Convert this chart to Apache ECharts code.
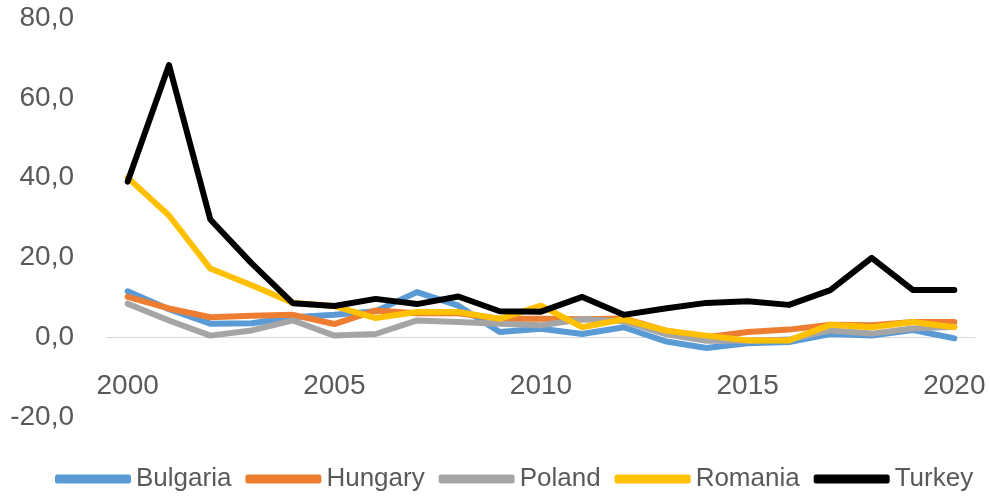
<!DOCTYPE html>
<html>
<head>
<meta charset="utf-8">
<title>Inflation</title>
<script src="https://cdn.jsdelivr.net/npm/echarts@6/dist/echarts.min.js"></script>
<style>
  html, body { margin: 0; padding: 0; background: #fff; }
  #chart { width: 990px; height: 497px; }
</style>
</head>
<body>
<div id="chart"></div>
<script>
// years on the x axis
const years = ['2000', '2001', '2002', '2003', '2004', '2005', '2006', '2007', '2008', '2009', '2010',
  '2011', '2012', '2013', '2014', '2015', '2016', '2017', '2018', '2019', '2020']

// values
const bulgaria = [11.5, 7.0, 3.4, 3.5, 5.0, 5.6, 6.5, 11.3, 7.9, 1.3, 2.1, 0.8, 2.5, -1.0, -2.7, -1.5, -1.2, 0.8, 0.4, 1.8, -0.3]
const hungary = [10.1, 7.2, 5.0, 5.4, 5.6, 3.3, 6.7, 6.0, 6.0, 4.6, 4.6, 4.5, 4.7, 1.7, 0.0, 1.3, 1.9, 3.1, 3.0, 3.8, 3.8]
const poland = [8.4, 4.2, 0.4, 1.7, 4.2, 0.4, 0.8, 4.2, 3.8, 3.4, 3.0, 4.5, 4.0, 0.8, -0.9, -0.9, -0.6, 1.7, 0.9, 2.2, 2.6]
const romania = [40.0, 30.5, 17.2, 13.0, 8.6, 7.8, 4.8, 6.3, 6.3, 4.6, 7.9, 2.5, 4.5, 1.7, 0.4, -0.8, -0.8, 3.1, 2.5, 3.8, 2.5]
const turkey = [39.0, 68.2, 29.5, 18.5, 8.5, 7.8, 9.6, 8.3, 10.2, 6.5, 6.4, 10.1, 5.6, 7.2, 8.6, 9.0, 8.1, 11.8, 19.9, 11.8, 11.8]

const seriesList = [
  { name: 'Bulgaria', data: bulgaria, color: '#5b9bd5' },
  { name: 'Hungary', data: hungary, color: '#ed7d31' },
  { name: 'Poland', data: poland, color: '#a5a5a5' },
  { name: 'Romania', data: romania, color: '#ffc000' },
  { name: 'Turkey', data: turkey, color: '#000000' }
]

const font = 'Liberation Sans, Arial, sans-serif'
const chart = echarts.init(document.getElementById('chart'))

chart.setOption({
  animation: false,
  color: seriesList.map(s => s.color),
  grid: { left: 107, right: 15, top: 18, bottom: 80 },
  legend: {
    left: 50,
    top: 461,
    icon: 'roundRect',
    itemWidth: 76,
    itemHeight: 9,
    itemGap: 14,
    textStyle: { fontFamily: font, fontSize: 26, color: '#595959' },
    data: seriesList.map(s => s.name)
  },
  xAxis: {
    type: 'category',
    data: years,
    boundaryGap: true,
    axisLine: { onZero: true, lineStyle: { color: '#d9d9d9', width: 1 } },
    axisTick: { show: false },
    axisLabel: {
      interval: 4,
      margin: -45,
      fontFamily: font,
      fontSize: 28,
      color: '#595959'
    }
  },
  yAxis: {
    type: 'value',
    min: -20,
    max: 80,
    interval: 20,
    splitLine: { show: false },
    axisLine: { show: false },
    axisTick: { show: false },
    axisLabel: {
      margin: 33,
      fontFamily: font,
      fontSize: 28,
      color: '#595959',
      formatter: v => v.toFixed(1).replace('.', ',')
    }
  },
  series: seriesList.map(s => ({
    name: s.name,
    type: 'line',
    data: s.data,
    symbol: 'none',
    lineStyle: { width: 6, color: s.color, cap: 'round', join: 'round' }
  }))
})
</script>
</body>
</html>
